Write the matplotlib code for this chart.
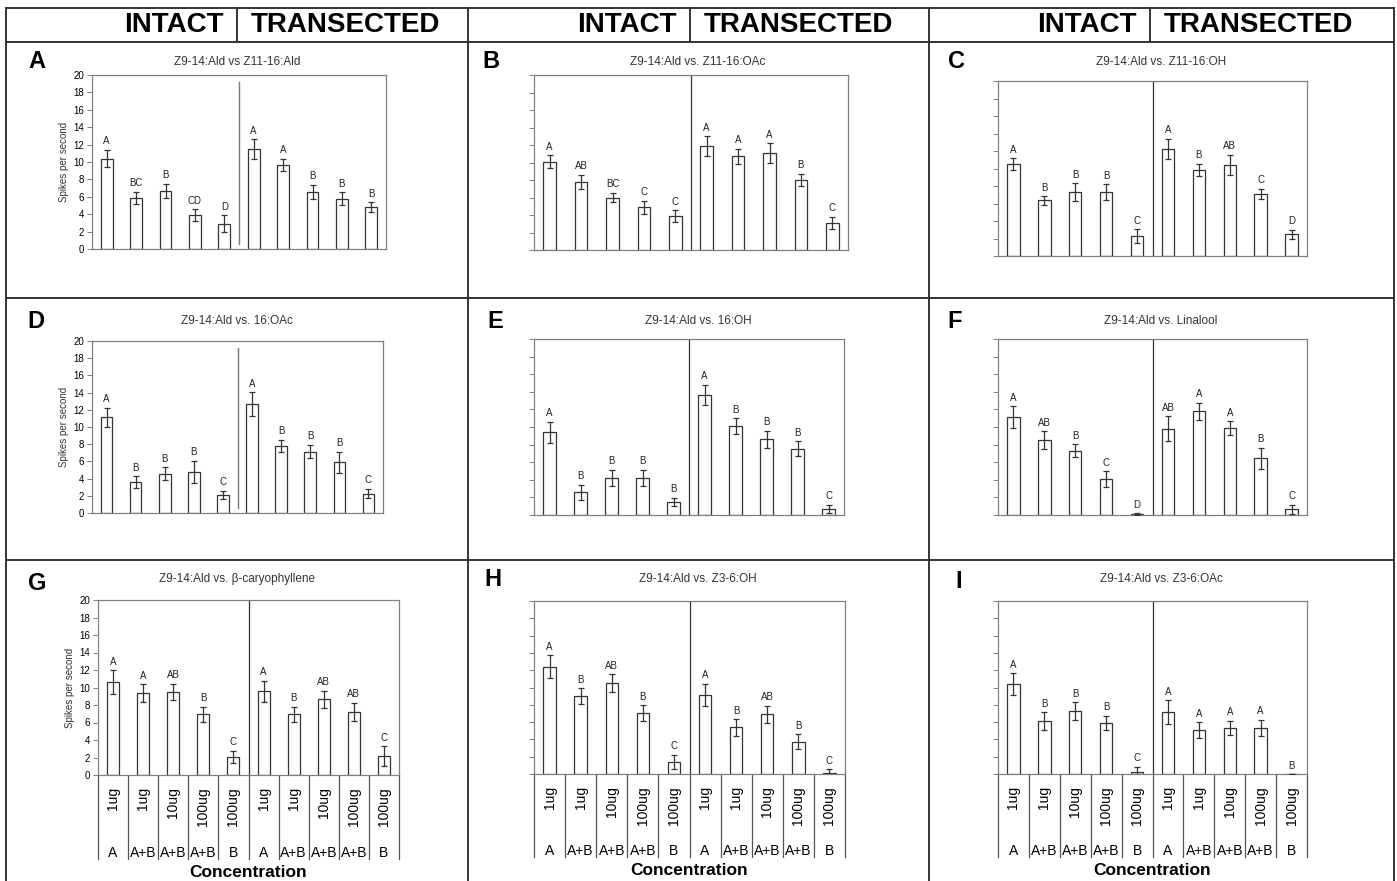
import numpy as np
import matplotlib
matplotlib.use('Agg')
import matplotlib.pyplot as plt
from matplotlib.lines import Line2D
from matplotlib.transforms import blended_transform_factory

plt.rcParams['font.family'] = ['Liberation Sans', 'DejaVu Sans']

W, H = 1397, 881

### Data: spikes per second (mean, SE), 5 intact then 5 transected
conc_labels = ['1ug', '1ug', '10ug', '100ug', '100ug'] * 2
stim_labels = ['A', 'A+B', 'A+B', 'A+B', 'B'] * 2

a_mean = [10.4, 5.9, 6.7, 3.9, 2.9, 11.5, 9.7, 6.6, 5.8, 4.8]
a_err  = [1.0, 0.7, 0.8, 0.7, 1.0, 1.1, 0.7, 0.8, 0.7, 0.6]
a_sig  = ['A', 'BC', 'B', 'CD', 'D', 'A', 'A', 'B', 'B', 'B']

b_mean = [10.1, 7.8, 6.0, 4.9, 3.9, 11.9, 10.7, 11.05, 8.0, 3.1]
b_err  = [0.75, 0.8, 0.55, 0.75, 0.65, 1.1, 0.9, 1.15, 0.7, 0.7]
b_sig  = ['A', 'AB', 'BC', 'C', 'C', 'A', 'A', 'A', 'B', 'C']

c_mean = [10.5, 6.35, 7.3, 7.3, 2.25, 12.25, 9.85, 10.45, 7.1, 2.5]
c_err  = [0.65, 0.5, 1.0, 0.9, 0.8, 1.15, 0.7, 1.15, 0.6, 0.5]
c_sig  = ['A', 'B', 'B', 'B', 'C', 'A', 'B', 'AB', 'C', 'D']

d_mean = [11.15, 3.55, 4.55, 4.75, 2.1, 12.65, 7.8, 7.15, 5.9, 2.25]
d_err  = [1.1, 0.7, 0.75, 1.3, 0.5, 1.4, 0.7, 0.8, 1.2, 0.55]
d_sig  = ['A', 'B', 'B', 'B', 'C', 'A', 'B', 'B', 'B', 'C']

e_mean = [9.4, 2.6, 4.25, 4.25, 1.5, 13.65, 10.1, 8.6, 7.55, 0.7]
e_err  = [1.2, 0.85, 0.9, 0.9, 0.45, 1.15, 0.9, 0.95, 0.85, 0.45]
e_sig  = ['A', 'B', 'B', 'B', 'B', 'A', 'B', 'B', 'B', 'C']

f_mean = [11.1, 8.5, 7.3, 4.1, 0.1, 9.8, 11.8, 9.85, 6.45, 0.65]
f_err  = [1.25, 1.0, 0.75, 0.9, 0.1, 1.4, 0.95, 0.8, 1.2, 0.5]
f_sig  = ['A', 'AB', 'B', 'C', 'D', 'AB', 'A', 'A', 'B', 'C']

g_mean = [10.65, 9.4, 9.5, 6.95, 2.05, 9.55, 6.95, 8.65, 7.2, 2.15]
g_err  = [1.35, 1.0, 0.95, 0.85, 0.7, 1.2, 0.85, 1.0, 1.05, 1.15]
g_sig  = ['A', 'A', 'AB', 'B', 'C', 'A', 'B', 'AB', 'AB', 'C']

h_mean = [12.4, 9.0, 10.5, 7.05, 1.4, 9.15, 5.4, 6.9, 3.75, 0.15]
h_err  = [1.35, 0.9, 1.05, 0.9, 0.8, 1.3, 0.95, 1.0, 0.85, 0.4]
h_sig  = ['A', 'B', 'AB', 'B', 'C', 'A', 'B', 'AB', 'B', 'C']

i_mean = [10.4, 6.1, 7.3, 5.9, 0.2, 7.15, 5.1, 5.35, 5.3, 0.0]
i_err  = [1.25, 1.05, 1.0, 0.85, 0.65, 1.4, 0.9, 0.8, 0.95, 0.0]
i_sig  = ['A', 'B', 'B', 'B', 'C', 'A', 'A', 'A', 'A', 'B']

titles = ['Z9-14:Ald vs Z11-16:Ald', 'Z9-14:Ald vs. Z11-16:OAc', 'Z9-14:Ald vs. Z11-16:OH',
          'Z9-14:Ald vs. 16:OAc', 'Z9-14:Ald vs. 16:OH', 'Z9-14:Ald vs. Linalool',
          'Z9-14:Ald vs. β-caryophyllene', 'Z9-14:Ald vs. Z3-6:OH', 'Z9-14:Ald vs. Z3-6:OAc']
panel_letters = ['A', 'B', 'C', 'D', 'E', 'F', 'G', 'H', 'I']
means = [a_mean, b_mean, c_mean, d_mean, e_mean, f_mean, g_mean, h_mean, i_mean]
errs  = [a_err, b_err, c_err, d_err, e_err, f_err, g_err, h_err, i_err]
sigs  = [a_sig, b_sig, c_sig, d_sig, e_sig, f_sig, g_sig, h_sig, i_sig]

### Layout in pixels (left, top, right, bottom) of every plot box
boxes = [(92, 75, 386, 249), (534, 75, 848, 250), (998, 81, 1307, 256),
         (92, 341, 383, 513), (534, 339, 844, 515), (998, 339, 1307, 515),
         (98, 600, 399, 775), (534, 601, 845, 774), (998, 601, 1307, 774)]
letter_xy = [(28, 62), (482, 62), (948, 62), (27, 322), (487, 322), (947, 322),
             (28, 583), (484, 580), (955, 581)]
col_center = [237, 698, 1161]
row_title_y = [62, 321, 579]
col_edges = [6, 468, 929, 1394]
head_div = [237, 690, 1150]

fig = plt.figure(figsize=(W/100, H/100), dpi=100)

def fx(x): return x / W
def fy(y): return 1 - y / H

frame_kw = dict(color='#333333', linewidth=1.4)
### outer frame and grid
fig.add_artist(Line2D([fx(6), fx(1394)], [fy(8), fy(8)], **frame_kw))
for y in [42, 298, 560]:
    fig.add_artist(Line2D([fx(6), fx(1394)], [fy(y), fy(y)], **frame_kw))
for x in col_edges:
    fig.add_artist(Line2D([fx(x), fx(x)], [fy(8), fy(881)], **frame_kw))
for x in head_div:
    fig.add_artist(Line2D([fx(x), fx(x)], [fy(8), fy(42)], **frame_kw))
    fig.text(fx(x - 13), fy(25), 'INTACT', ha='right', va='center',
             fontsize=20, fontweight='bold')
    fig.text(fx(x + 14), fy(25), 'TRANSECTED', ha='left', va='center',
             fontsize=20, fontweight='bold')

pos = np.arange(10)
for k in range(9):
    l, t, r, b = boxes[k]
    ax = fig.add_axes([fx(l), fy(b), (r - l) / W, (b - t) / H])
    row, col = divmod(k, 3)
    m, e = np.array(means[k]), np.array(errs[k])

    ax.bar(pos, m, width=0.4, color='white', edgecolor='#333333', linewidth=0.9, zorder=2)
    ax.errorbar(pos, m, yerr=e, fmt='none', ecolor='#333333', elinewidth=0.9,
                capsize=2.5, capthick=0.9, zorder=3)
    for x, top, s in zip(pos, m + e, sigs[k]):
        ax.annotate(s, (x, top), xytext=(0, 2.5), textcoords='offset points',
                    ha='center', va='bottom', fontsize=7, color='#222222')

    ax.set_xlim(-0.5, 9.5)
    ax.set_ylim(0, 20)
    ax.set_yticks(np.arange(0, 21, 2))
    ax.set_xticks([])
    for sp in ax.spines.values():
        sp.set_color('#808080')
        sp.set_linewidth(0.9)
    ax.tick_params(axis='y', direction='out', length=3.5, width=0.7,
                   color='#808080', labelsize=7, pad=2)
    if col == 0:
        ax.set_ylabel('Spikes per second', fontsize=7, color='#333333', labelpad=3)
    else:
        ax.tick_params(axis='y', labelleft=False)

    if k in (0, 3):
        ax.axvline(4.5, ymin=0.03, ymax=0.96, color='#777777', linewidth=1.0)
    else:
        ax.axvline(4.5, color='#333333', linewidth=0.9)

    fig.text(fx(col_center[col]), fy(row_title_y[row]), titles[k],
             ha='center', va='center', fontsize=8.5, color='#333333')
    lx, ly = letter_xy[k]
    fig.text(fx(lx), fy(ly), panel_letters[k], ha='left', va='center',
             fontsize=17, fontweight='bold')

    if row == 2:
        tr = blended_transform_factory(ax.transData, ax.transAxes)
        for xb in np.arange(-0.5, 10, 1.0):
            ax.plot([xb, xb], [0, -0.48], transform=tr, clip_on=False,
                    color='#555555', linewidth=0.9)
        for x, c, s in zip(pos, conc_labels, stim_labels):
            ax.text(x, -0.07, c, transform=tr, rotation=90, ha='center', va='top',
                    fontsize=10)
            ax.text(x, -0.445, s, transform=tr, ha='center', va='center', fontsize=10)
        ax.text(4.5, -0.56, 'Concentration', transform=tr, ha='center', va='center',
                fontsize=12.5, fontweight='bold')

fig.savefig('out.png', dpi=100)
